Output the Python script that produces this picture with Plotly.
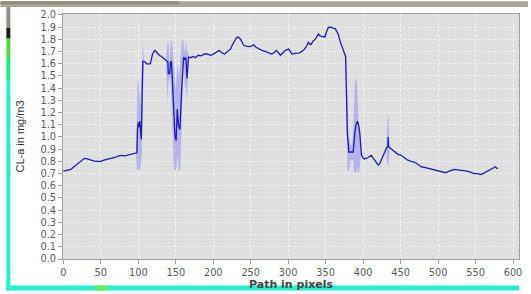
import plotly.graph_objects as go

# ---- main series (path position in pixels, CL-a in mg/m3) ----
path_x = [0, 5, 10, 15, 20, 25, 28, 32, 36, 40, 45, 50, 54, 58, 62, 66, 70, 74, 78, 82, 86, 90, 94, 97,
          98, 99, 100, 101, 102, 103, 104, 105, 106, 108, 111, 114, 116, 119, 122, 125, 128, 131, 135, 138,
          139.5, 140, 142, 143, 144, 145, 147, 149, 150.5, 152, 153.5, 155.5, 158, 160.5, 162, 163.5, 165,
          167, 170, 173, 176, 180, 184, 188, 192, 196, 199, 203, 208, 211, 215, 219, 223, 226, 229, 231,
          233.5, 236.5, 239, 241, 244, 247.7, 251, 254, 257, 261, 265, 270, 274, 278, 281, 284, 287, 289.7,
          293, 296, 300.7, 303, 305, 310, 314, 318, 321.9, 325, 327, 329, 330.7, 333, 336, 340.4, 342,
          344.8, 349, 351, 353.6, 357, 360, 362.5, 364.6, 367, 369, 371.3, 373.5, 375.7, 376.6, 378,
          378.8, 381, 384, 386.8, 389, 390.5, 392.5, 394, 395.6, 397.8, 400, 402, 406, 408, 411, 413,
          415.5, 418, 420, 422, 424.5, 427, 429, 431, 433, 433.5, 434, 436, 442, 446, 450.7, 455, 459.6,
          464, 468.5, 472, 477, 482, 488, 493, 499, 504, 510, 515, 521.5, 526, 530, 535, 539, 544, 548,
          552, 556.7, 560, 563, 566, 570, 573, 576.6, 578, 579.7]
cla = [0.72, 0.725, 0.735, 0.76, 0.785, 0.81, 0.825, 0.82, 0.81, 0.805, 0.80, 0.80, 0.81, 0.815, 0.82,
       0.83, 0.835, 0.845, 0.85, 0.845, 0.85, 0.86, 0.86, 0.865,
       0.87, 1.07, 1.12, 1.08, 1.13, 1.05, 0.98, 1.30, 1.62, 1.62, 1.60, 1.60, 1.60, 1.68, 1.71, 1.69,
       1.67, 1.66, 1.64, 1.62,
       1.615, 1.52, 1.52, 1.615, 1.62, 1.53, 1.30, 1.00, 0.97, 1.23, 1.10, 1.06, 1.40, 1.655, 1.64,
       1.65, 1.48,
       1.655, 1.65, 1.66, 1.65, 1.67, 1.665, 1.68, 1.68, 1.67, 1.675, 1.69, 1.71, 1.69, 1.68, 1.70,
       1.72, 1.76, 1.80, 1.815,
       1.82, 1.80, 1.77, 1.75, 1.745, 1.74, 1.745, 1.755, 1.735, 1.72, 1.71, 1.70, 1.69, 1.68, 1.69,
       1.71, 1.69, 1.67,
       1.69, 1.71, 1.72, 1.70, 1.68, 1.685, 1.688, 1.70, 1.72, 1.75, 1.777, 1.76, 1.76, 1.785, 1.80,
       1.844, 1.83,
       1.825, 1.82, 1.86, 1.898, 1.90, 1.89, 1.89, 1.87, 1.84, 1.79, 1.75, 1.72, 1.68, 1.66, 1.30,
       1.04, 0.877, 0.877, 0.877, 1.04, 1.10, 1.13, 1.10, 1.03, 0.85, 0.83, 0.82, 0.83, 0.84, 0.85,
       0.83,
       0.81, 0.78, 0.77, 0.78, 0.81, 0.85, 0.88, 0.91, 0.92, 1.00, 0.92, 0.91, 0.88, 0.86, 0.85, 0.83,
       0.81,
       0.80, 0.795, 0.78, 0.756, 0.75, 0.742, 0.735, 0.728, 0.72, 0.707, 0.72, 0.734, 0.73, 0.728,
       0.725, 0.72, 0.71, 0.70,
       0.70, 0.693, 0.70, 0.71, 0.725, 0.736, 0.75, 0.756, 0.745, 0.74]

# ---- min/max band where it is visible ----
band1_x = [97, 98, 99, 100, 101, 102, 103, 104, 105, 106, 107, 108]
band1_lo = [0.86, 0.75, 0.72, 0.72, 0.73, 0.74, 0.76, 0.80, 0.95, 1.10, 1.55, 1.61]
band1_hi = [0.87, 1.20, 1.45, 1.48, 1.40, 1.30, 1.25, 1.45, 1.76, 1.78, 1.65, 1.63]

band2_x = [137, 138, 139, 140, 141, 142, 143, 144, 145, 146, 147, 148, 149, 150, 151, 152, 153, 154,
           155, 156, 157, 158, 159, 160, 161, 162, 163, 164, 165, 166, 167]
band2_lo = [1.63, 1.45, 1.29, 1.40, 1.50, 1.45, 1.50, 1.40, 1.20, 1.00, 0.80, 0.72, 0.72, 0.72, 0.75,
            0.85, 0.80, 0.72, 0.72, 0.75, 0.90, 1.10, 1.30, 1.55, 1.60, 1.40, 1.45, 1.35, 1.30, 1.50,
            1.64]
band2_hi = [1.65, 1.77, 1.78, 1.78, 1.70, 1.60, 1.75, 1.79, 1.78, 1.70, 1.60, 1.55, 1.45, 1.40, 1.50,
            1.60, 1.55, 1.50, 1.55, 1.65, 1.75, 1.79, 1.80, 1.78, 1.72, 1.70, 1.75, 1.78, 1.70, 1.70,
            1.67]

band3_x = [377, 378, 379, 380, 381, 383, 385, 387, 388, 389, 390, 391, 392, 393, 394, 395, 396, 397]
band3_lo = [1.60, 1.20, 0.75, 0.72, 0.72, 0.80, 0.82, 0.80, 0.72, 0.70, 0.70, 0.72, 0.75, 0.72, 0.70,
            0.72, 0.78, 0.83]
band3_hi = [1.70, 1.50, 1.36, 1.20, 1.00, 0.95, 0.92, 1.10, 1.30, 1.45, 1.47, 1.48, 1.40, 1.20, 1.10,
            1.05, 0.95, 0.87]

band4_x = [431, 432, 433, 434, 435]
band4_lo = [0.90, 0.78, 0.77, 0.78, 0.88]
band4_hi = [0.93, 1.05, 1.19, 1.15, 0.95]

x_ticks = list(range(0, 601, 50))
y_ticks = [round(i * 0.1, 1) for i in range(21)]

fig = go.Figure()

for bx, blo, bhi in [(band1_x, band1_lo, band1_hi), (band2_x, band2_lo, band2_hi),
                     (band3_x, band3_lo, band3_hi), (band4_x, band4_lo, band4_hi)]:
    fig.add_trace(go.Scatter(
        x=bx + bx[::-1], y=bhi + blo[::-1], mode="lines", fill="toself",
        fillcolor="rgba(120,120,250,0.42)", line=dict(width=0), hoverinfo="skip"))

fig.add_trace(go.Scatter(x=path_x, y=cla, mode="lines",
                         line=dict(color="#1c1cb0", width=1.3)))

# decorative frame bits around the screenshot
shapes = []
def px_rect(x0, y0, x1, y1, color):
    # convert pixel box of the 531x294 image to paper coordinates
    L, R, T, B = 63, 522, 13, 262
    w, h = R - L, B - T
    shapes.append(dict(type="rect", xref="paper", yref="paper", layer="above",
                       x0=(x0 - L) / w, x1=(x1 - L) / w,
                       y0=(B - y1) / h, y1=(B - y0) / h,
                       line=dict(width=0), fillcolor=color))

px_rect(0, 0, 531, 6, "#aaa596")
px_rect(0, 0, 180, 3, "#8f8a7c")
px_rect(6, 6, 10, 27, "#8e8e80")
px_rect(6, 27, 10, 38, "#142014")
px_rect(6, 38, 10, 57, "#48e038")
px_rect(6, 57, 10, 80, "#10f080")
px_rect(6, 80, 10, 294, "#22f0c8")
px_rect(6, 289, 522, 294, "#22f0d0")
px_rect(95, 289, 108, 294, "#60f060")

tick_font = dict(family="DejaVu Sans", size=9.8, color="#5a5a5a")
title_font = dict(family="DejaVu Sans", size=11, color="#444444", weight="bold")

fig.update_layout(
    width=531, height=294,
    margin=dict(l=63, r=9, t=13, b=32),
    paper_bgcolor="white", plot_bgcolor="#dfdfdf",
    showlegend=False, shapes=shapes,
    xaxis=dict(range=[-0.5, 608], tickvals=x_ticks, ticktext=[str(v) for v in x_ticks],
               showgrid=True, gridcolor="#f3f3f3", gridwidth=1, griddash="3px,2px",
               zeroline=False, showline=True, linecolor="#a0a0a0", mirror=True,
               ticks="outside", ticklen=4, tickcolor="#a0a0a0", tickfont=tick_font,
               title=dict(text="Path in pixels", font=title_font, standoff=0)),
    yaxis=dict(range=[0, 2.008], tickvals=y_ticks, ticktext=[f"{v:.1f}" for v in y_ticks],
               showgrid=True, gridcolor="#f3f3f3", gridwidth=1, griddash="3px,2px",
               zeroline=False, showline=True, linecolor="#a0a0a0", mirror=True,
               ticks="outside", ticklen=4, tickcolor="#a0a0a0", tickfont=tick_font,
               title=dict(text="CL-a in mg/m3",
                          font=dict(family="Liberation Sans", size=11, color="#333333"),
                          standoff=13)),
)

fig.write_html("out.html",
               config={"displayModeBar": False},
               post_script="document.body.style.margin='0';"
                           "document.documentElement.style.overflow='hidden';")
